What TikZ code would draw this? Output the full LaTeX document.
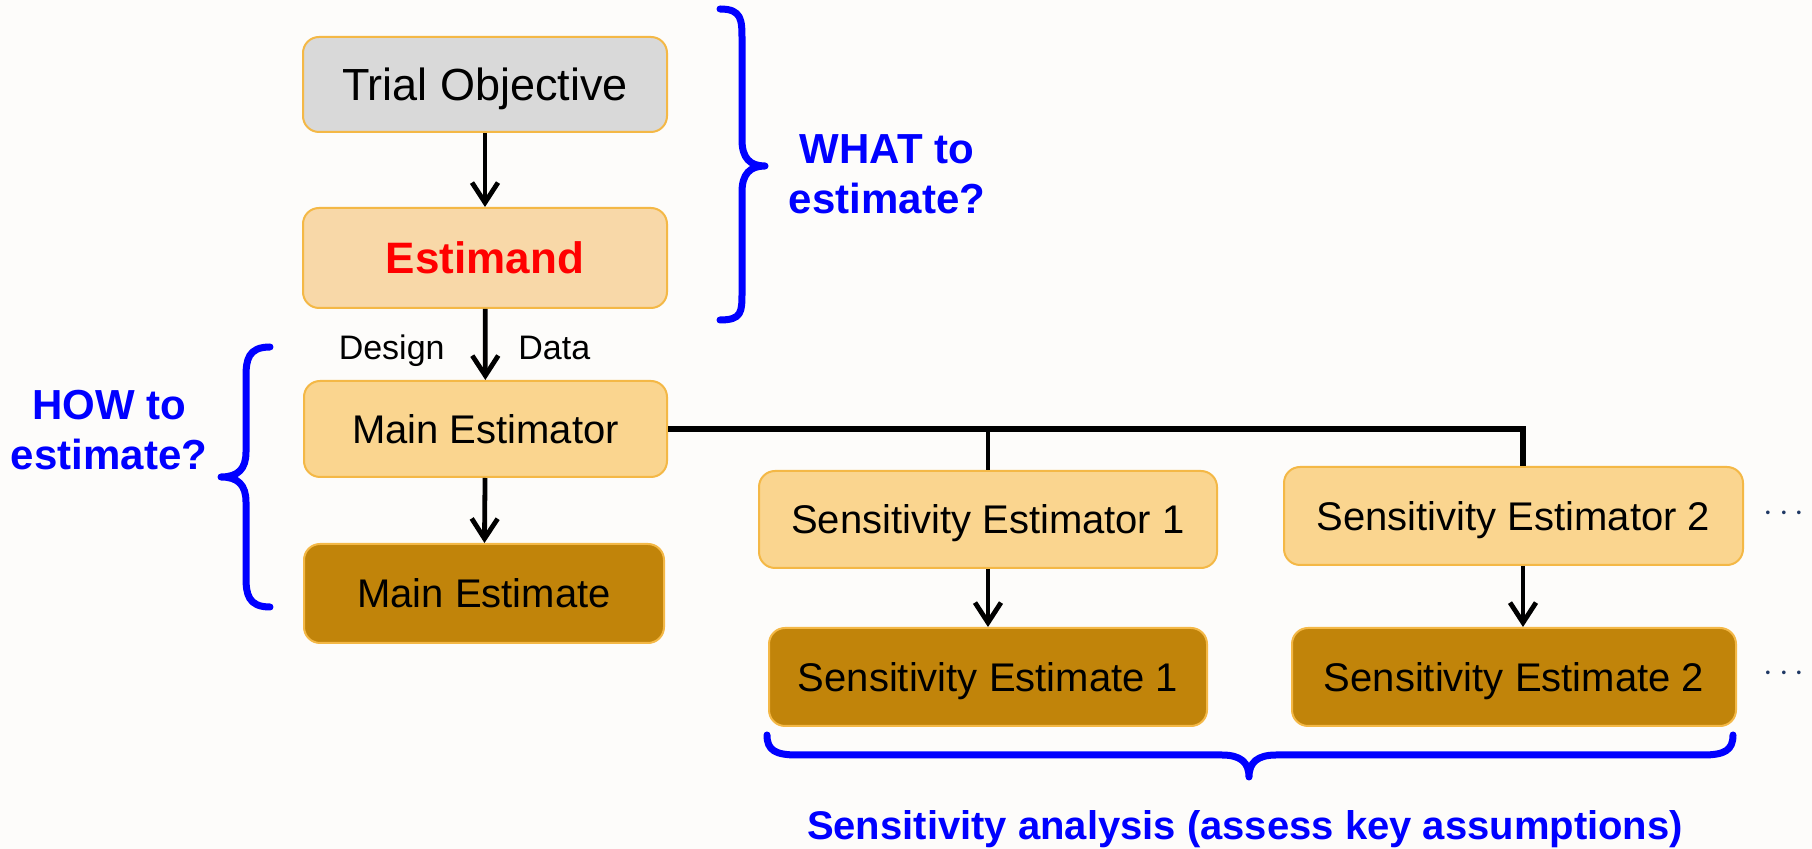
\documentclass[tikz,border=0pt]{standalone}
\usepackage{fontspec}
\setmainfont{Liberation Sans}
\usetikzlibrary{arrows.meta}
\definecolor{bg}{HTML}{FDFCFA}
\definecolor{bord}{HTML}{F4B846}
\definecolor{grayfill}{HTML}{D9D9D9}
\definecolor{peach}{HTML}{F8D8A8}
\definecolor{lightor}{HTML}{FAD58F}
\definecolor{dark}{HTML}{C1840A}
\definecolor{navy}{HTML}{1F3864}
\definecolor{myblue}{HTML}{0000FF}
\definecolor{myred}{HTML}{FF0000}
\begin{document}
\begin{tikzpicture}[x=0.5pt,y=-0.5pt,
  box/.style={draw=bord, line width=1pt, rounded corners=8pt, inner sep=0pt, align=center,
    font=\fontsize{20}{24}\selectfont, text height=14.3pt, text depth=0pt},
  arr/.style={draw=black, line width=2.4pt, -{Straight Barb[length=10pt,width=13pt,line width=2.4pt]}},
  link/.style={draw=black, line width=2.8pt},
  brace/.style={draw=myblue, line width=3.5pt, line cap=round, line join=round},
  qlabel/.style={text=myblue, font=\fontsize{21}{25}\selectfont\bfseries, align=center, inner sep=0pt},
  small/.style={font=\fontsize{17}{20}\selectfont, inner sep=0pt},
  dots/.style={text=navy, font=\fontsize{17}{20}\selectfont, inner sep=0pt, anchor=base}]

\fill[bg] (0,0) rectangle (1812,849);
\useasboundingbox (0,0) rectangle (1812,849);

% boxes
\node[box, fill=grayfill, minimum width=182pt, minimum height=47.5pt,
  font=\fontsize{22.5}{27}\selectfont, text height=16.1pt] (obj) at (485,84.5) {Trial Objective};
\node[box, fill=peach, minimum width=182pt, minimum height=50pt,
  font=\fontsize{22}{26}\selectfont\bfseries, text=myred, text height=15.8pt] (estimand) at (485,258) {Estimand};
\node[box, fill=lightor, minimum width=181.5pt, minimum height=48pt] (mest) at (485.5,429) {Main Estimator};
\node[box, fill=dark, minimum width=180pt, minimum height=49.5pt] (mestim) at (484,593.5) {Main Estimate};
\node[box, fill=lightor, minimum width=229pt, minimum height=48.5pt] (se1) at (988,519.5) {Sensitivity Estimator 1};
\node[box, fill=lightor, minimum width=229.5pt, minimum height=49pt] (se2) at (1513.5,516) {Sensitivity Estimator 2};
\node[box, fill=dark, minimum width=219pt, minimum height=49pt] (sx1) at (988,677) {Sensitivity Estimate 1};
\node[box, fill=dark, minimum width=222pt, minimum height=49pt] (sx2) at (1514,677) {Sensitivity Estimate 2};

% connectors
\draw[arr] (obj) -- (estimand);
\draw[arr] (estimand) -- (mest);
\draw[arr] (mest) -- (mestim);
\coordinate (j1) at (988,429);
\coordinate (j2) at (1523,429);
\draw[link, line join=miter] (mest.east) -- (j2) -- (j2 |- se2.north);
\draw[link, line width=2.4pt] (j1) -- (se1.north);
\draw[arr] (se1) -- (sx1);
\draw[arr] (se2.south -| j2) -- (sx2.north -| j2);

% labels
\node[small, anchor=base east] (design) at (445,360) {Design};
\node[small, anchor=base west] (data) at (518,360) {Data};
\node[dots] (d1) at (1784,521.5) {$\cdots$};
\node[dots] (d2) at (1784,681.5) {$\cdots$};

% braces
\draw[brace] (720,9) .. controls (742,9) and (742,20) .. (742,40) -- (742,140)
  .. controls (742,158) and (750,166) .. (765,166)
  .. controls (750,166) and (742,174) .. (742,192) -- (742,292)
  .. controls (742,312) and (742,320) .. (720,320);
\draw[brace] (270,347) .. controls (248,347) and (246,360) .. (246,377) -- (246,452)
  .. controls (246,469) and (238,477) .. (221,477)
  .. controls (238,477) and (246,485) .. (246,502) -- (246,577)
  .. controls (246,594) and (248,607) .. (270,607);
\draw[brace] (767,735) .. controls (767,750) and (775,755) .. (797,755) -- (1222,755)
  .. controls (1240,755) and (1249,762) .. (1249,777)
  .. controls (1249,762) and (1258,755) .. (1276,755) -- (1703,755)
  .. controls (1725,755) and (1733,750) .. (1733,735);

\node[qlabel] (what) at (887,174) {WHAT to\\estimate?};
\node[qlabel] (how) at (109,430) {HOW to\\estimate?};
\node[text=myblue, font=\fontsize{20}{24}\selectfont\bfseries, anchor=base, inner sep=0pt] (sens)
  at (1245,840) {Sensitivity analysis (assess key assumptions)};
\end{tikzpicture}
\end{document}
